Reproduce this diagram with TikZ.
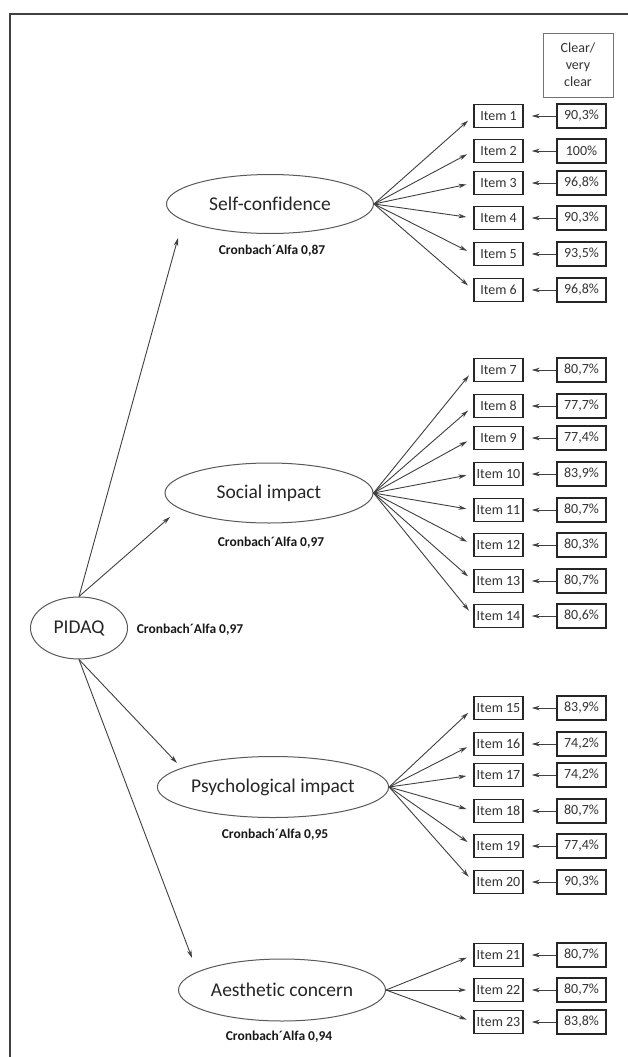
\documentclass[tikz,border=0pt]{standalone}
\usepackage{fontspec}
\setmainfont{Carlito}[Ligatures={NoCommon}]
\usetikzlibrary{arrows.meta,shapes.geometric}
\begin{document}
\begin{tikzpicture}[x=1pt,y=-1pt,
  lat/.style={ellipse, draw=black!65, line width=1pt, inner sep=0pt, text=black!85, font=\fontsize{19.5}{22}\selectfont},
  itembox/.style={draw=black!85, line width=1.4pt, minimum width=49pt, minimum height=23pt, inner sep=1pt, text=black!80, font=\fontsize{14}{16}\selectfont},
  alpha/.style={text=black!90, font=\bfseries\fontsize{13.5}{16}\selectfont},
  arr/.style={draw=black!75, line width=0.9pt, -{Stealth[length=8pt,width=4.5pt]}}
]
\useasboundingbox (0,0) rectangle (628,1057);
\fill[white] (0,0) rectangle (628,1057);
% partial frame
\draw[line width=2pt, black!75] (10,1057) -- (10,14) -- (628,14);

% latent ellipses
\node[lat, minimum width=97pt, minimum height=62pt] (p) at (79,628) {PIDAQ};
\node[lat, minimum width=207pt, minimum height=59pt] (sc) at (270,204) {Self-confidence};
\node[lat, minimum width=208pt, minimum height=60pt] (si) at (269,493) {Social impact};
\node[lat, minimum width=209pt, minimum height=61pt] (pi) at (273,787) {Psychological impact};
\node[lat, minimum width=207pt, minimum height=62pt] (ac) at (282,990) {Aesthetic concern};

% alpha labels
\node[alpha] (ap) at (190,630) {Cronbach´Alfa 0,97};
\node[alpha] (asc) at (272,251) {Cronbach´Alfa 0,87};
\node[alpha] (asi) at (271,543) {Cronbach´Alfa 0,97};
\node[alpha] (api) at (275,835) {Cronbach´Alfa 0,95};
\node[alpha] (aac) at (279,1037) {Cronbach´Alfa 0,94};

% header box
\node[draw=black!55, line width=0.7pt, minimum width=70pt, minimum height=64pt, align=center, text=black!80, font=\fontsize{14}{17}\selectfont] (cl) at (578,65) {Clear/\\very\\clear};

% arrows from PIDAQ
\coordinate (tsc) at (178,238);
\coordinate (tsi) at (170,517);
\coordinate (tpi) at (177,763);
\coordinate (tac) at (192,958);
\draw[arr] (p.north) -- (tsc);
\draw[arr] (p.north) -- (tsi);
\draw[arr] (p.south) -- (tpi);
\draw[arr] (p.south) -- (tac);

% items
\foreach \i/\y/\pc/\g in {
  1/116/{90,3\%}/sc, 2/151/{100\%}/sc, 3/183/{96,8\%}/sc, 4/218/{90,3\%}/sc, 5/254/{93,5\%}/sc, 6/290/{96,8\%}/sc,
  7/370/{80,7\%}/si, 8/406/{77,7\%}/si, 9/438/{77,4\%}/si, 10/474/{83,9\%}/si, 11/510/{80,7\%}/si, 12/545/{80,3\%}/si, 13/581/{80,7\%}/si, 14/616/{80,6\%}/si,
  15/708/{83,9\%}/pi, 16/744/{74,2\%}/pi, 17/775/{74,2\%}/pi, 18/811/{80,7\%}/pi, 19/846/{77,4\%}/pi, 20/882/{90,3\%}/pi,
  21/955/{80,7\%}/ac, 22/990/{80,7\%}/ac, 23/1022/{83,8\%}/ac}{
  \node[itembox] (it\i) at (498.5,\y) {Item \i};
  \node[itembox, minimum height=24pt] (pc\i) at (581.5,\y) {\pc};
  \draw[arr, shorten >=8pt] (pc\i.west) -- (it\i.east);
  \draw[arr, shorten >=7pt] (\g.east) -- (it\i.west);
}
\end{tikzpicture}
\end{document}
